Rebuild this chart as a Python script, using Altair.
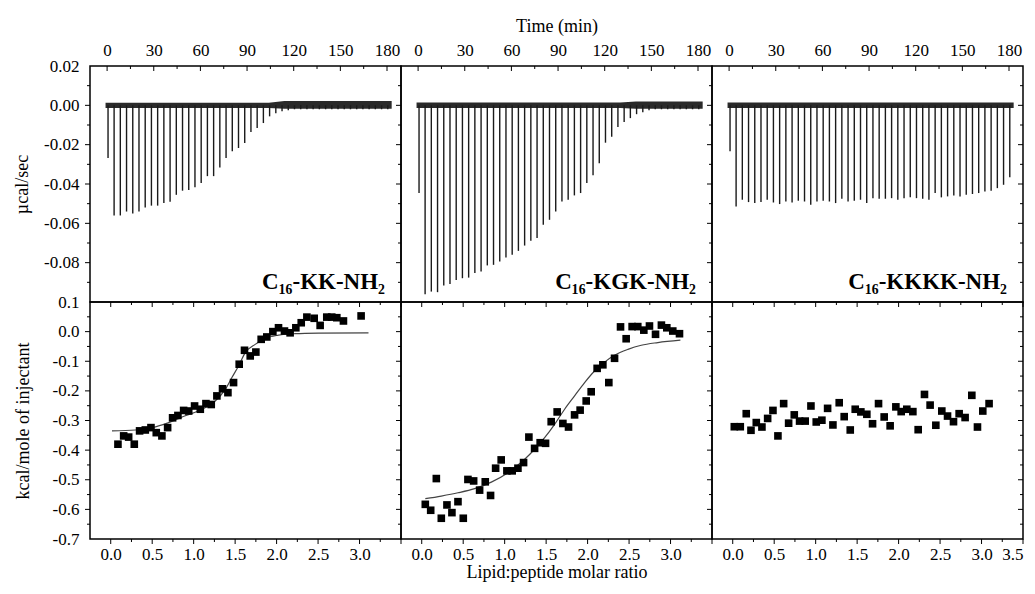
import altair as alt
import pandas as pd

W, H_TOP, H_BOT = 311, 236, 237
FONT = "Liberation Serif"

panel_names = ["C₁₆-KK-NH₂", "C₁₆-KGK-NH₂", "C₁₆-KKKK-NH₂"]

# ---- raw thermograms: injection times (min) and peak minima (µcal/sec) ----
inj_time = [0.6, 4.5, 8.5, 12.5, 16.5, 20.5, 24.5, 28.5, 32.5, 36.5, 40.5, 44.5,
            48.5, 52.5, 56.5, 60.5, 64.5, 68.5, 72.5, 76.5, 80.5, 84.5, 88.5, 92.5,
            96.5, 100.5, 104.5, 108.5, 112.5, 116.5, 120.5, 124.5, 128.5, 132.5,
            136.5, 140.5, 144.5, 148.5, 152.5, 156.5, 160.5, 164.5, 168.5, 172.5,
            176.5, 180.5]
peak_kk = [-0.0268, -0.0560, -0.0560, -0.0540, -0.0550, -0.0540, -0.0520, -0.0510,
           -0.0510, -0.0497, -0.0490, -0.0455, -0.0434, -0.0430, -0.0416, -0.0395,
           -0.0360, -0.0360, -0.0316, -0.0268, -0.0234, -0.0217, -0.0192, -0.0136,
           -0.0115, -0.0090, -0.0056, -0.0040, -0.0030, -0.0025, -0.0020, -0.0020,
           -0.0020, -0.0020, -0.0020, -0.0020, -0.0020, -0.0020, -0.0020, -0.0020,
           -0.0020, -0.0020, -0.0020, -0.0020, -0.0020, -0.0020]
peak_kgk = [-0.0446, -0.0960, -0.0947, -0.0950, -0.0916, -0.0909, -0.0888, -0.0879,
            -0.0876, -0.0853, -0.0845, -0.0814, -0.0811, -0.0794, -0.0774, -0.0760,
            -0.0740, -0.0713, -0.0689, -0.0675, -0.0607, -0.0582, -0.0540, -0.0489,
            -0.0480, -0.0458, -0.0446, -0.0395, -0.0356, -0.0294, -0.0190, -0.0160,
            -0.0110, -0.0085, -0.0065, -0.0045, -0.0035, -0.0025, -0.0020, -0.0020,
            -0.0020, -0.0020, -0.0020, -0.0020, -0.0020, -0.0020]
peak_kkkk = [-0.0234, -0.0514, -0.0480, -0.0492, -0.0497, -0.0492, -0.0480, -0.0494,
             -0.0502, -0.0489, -0.0494, -0.0485, -0.0489, -0.0506, -0.0489, -0.0485,
             -0.0489, -0.0497, -0.0475, -0.0489, -0.0485, -0.0480, -0.0497, -0.0472,
             -0.0475, -0.0475, -0.0472, -0.0480, -0.0472, -0.0468, -0.0472, -0.0475,
             -0.0480, -0.0446, -0.0468, -0.0463, -0.0458, -0.0463, -0.0455, -0.0451,
             -0.0446, -0.0438, -0.0434, -0.0421, -0.0404, -0.0366]

# baseline noise envelope (µcal/sec)
base_t_kk = [-1.0, 104.0, 114.0, 183.0]
base_lo_kk = [-0.0013, -0.0013, -0.0017, -0.0017]
base_hi_kk = [0.0013, 0.0013, 0.0022, 0.0022]
base_t_kgk = [-1.0, 130.0, 140.0, 183.0]
base_lo_kgk = [-0.0013, -0.0013, -0.0017, -0.0017]
base_hi_kgk = [0.0015, 0.0015, 0.0019, 0.0019]
base_t_kkkk = [-1.0, 183.0]
base_lo_kkkk = [-0.0013, -0.0013]
base_hi_kkkk = [0.0015, 0.0015]

# ---- integrated heats ----
ratio_kk = [0.087, 0.156, 0.216, 0.284, 0.348, 0.417, 0.485, 0.549, 0.617, 0.686, 0.746,
            0.810, 0.879, 0.940, 1.011, 1.080, 1.148, 1.212, 1.280, 1.348, 1.413, 1.481,
            1.549, 1.613, 1.682, 1.750, 1.814, 1.882, 1.955, 2.023, 2.095, 2.163, 2.232,
            2.297, 2.365, 2.453, 2.525, 2.605, 2.665, 2.726, 2.806, 3.019]
heat_kk = [-0.380, -0.352, -0.356, -0.380, -0.335, -0.332, -0.324, -0.341, -0.352, -0.324,
           -0.291, -0.283, -0.266, -0.268, -0.251, -0.262, -0.243, -0.246, -0.217, -0.193,
           -0.206, -0.172, -0.110, -0.063, -0.082, -0.069, -0.026, -0.018, 0.000, 0.013,
           0.002, -0.004, 0.013, 0.030, 0.049, 0.045, 0.021, 0.049, 0.049, 0.047, 0.036,
           0.053]
fit_x_kk = [0.015, 0.296, 0.497, 0.698, 0.899, 1.100, 1.260, 1.381, 1.461, 1.541, 1.622,
            1.742, 1.863, 2.023, 2.224, 2.505, 3.108]
fit_y_kk = [-0.335, -0.332, -0.324, -0.307, -0.284, -0.262, -0.234, -0.195, -0.155, -0.116,
            -0.071, -0.043, -0.023, -0.012, -0.007, -0.005, -0.004]

ratio_kgk = [0.043, 0.108, 0.176, 0.236, 0.304, 0.364, 0.437, 0.501, 0.557, 0.626, 0.698,
             0.766, 0.830, 0.891, 0.958, 1.027, 1.091, 1.160, 1.228, 1.292, 1.361, 1.428,
             1.493, 1.561, 1.633, 1.702, 1.770, 1.843, 1.910, 1.983, 2.043, 2.115, 2.184,
             2.256, 2.325, 2.397, 2.465, 2.537, 2.605, 2.678, 2.746, 2.819, 2.890, 2.955,
             3.027, 3.108]
heat_kgk = [-0.583, -0.603, -0.496, -0.630, -0.585, -0.611, -0.574, -0.630, -0.499, -0.504,
            -0.535, -0.507, -0.553, -0.461, -0.433, -0.470, -0.470, -0.461, -0.442, -0.356,
            -0.394, -0.375, -0.377, -0.304, -0.271, -0.310, -0.322, -0.281, -0.265, -0.234,
            -0.203, -0.124, -0.112, -0.172, -0.090, 0.016, -0.024, 0.017, 0.017, 0.005,
            0.019, -0.009, 0.022, 0.013, 0.002, -0.007]
fit_x_kgk = [0.043, 0.236, 0.437, 0.638, 0.839, 1.040, 1.241, 1.361, 1.482, 1.602, 1.723,
             1.843, 1.964, 2.084, 2.205, 2.325, 2.486, 2.647, 2.847, 3.119]
fit_y_kgk = [-0.564, -0.555, -0.544, -0.530, -0.508, -0.476, -0.431, -0.397, -0.358, -0.313,
             -0.262, -0.217, -0.172, -0.133, -0.103, -0.080, -0.060, -0.046, -0.037, -0.029]

ratio_kkkk = [0.019, 0.091, 0.163, 0.220, 0.284, 0.352, 0.421, 0.485, 0.545, 0.614, 0.674,
              0.742, 0.806, 0.874, 0.943, 1.007, 1.075, 1.144, 1.208, 1.284, 1.344, 1.417,
              1.477, 1.545, 1.617, 1.686, 1.758, 1.826, 1.898, 1.967, 2.031, 2.099, 2.172,
              2.236, 2.312, 2.380, 2.449, 2.521, 2.590, 2.662, 2.730, 2.802, 2.883, 2.951,
              3.015, 3.091]
heat_kkkk = [-0.321, -0.321, -0.277, -0.333, -0.307, -0.322, -0.293, -0.266, -0.352, -0.243,
             -0.309, -0.281, -0.302, -0.302, -0.251, -0.305, -0.299, -0.259, -0.315, -0.240,
             -0.287, -0.332, -0.262, -0.271, -0.279, -0.311, -0.243, -0.288, -0.318, -0.254,
             -0.270, -0.262, -0.270, -0.331, -0.212, -0.248, -0.316, -0.268, -0.285, -0.304,
             -0.277, -0.290, -0.215, -0.322, -0.268, -0.243]

# ---- tick positions ----
time_major = [0, 30, 60, 90, 120, 150, 180]
time_minor = [15, 45, 75, 105, 135, 165]
ratio_major = [0.0, 0.5, 1.0, 1.5, 2.0, 2.5, 3.0, 3.5]
ratio_minor = [0.25, 0.75, 1.25, 1.75, 2.25, 2.75, 3.25]
power_labels = [0.02, 0.0, -0.02, -0.04, -0.06, -0.08]
power_major = [0.0, -0.02, -0.04, -0.06, -0.08]
power_minor = [0.01, -0.01, -0.03, -0.05, -0.07, -0.09]
heat_major = [0.0, -0.1, -0.2, -0.3, -0.4, -0.5, -0.6]
heat_labels = [0.1, 0.0, -0.1, -0.2, -0.3, -0.4, -0.5, -0.6, -0.7]
heat_minor = [0.05, -0.05, -0.15, -0.25, -0.35, -0.45, -0.55, -0.65]

t_scale = alt.Scale(domain=[-11, 189], nice=False, zero=False)
p_scale = alt.Scale(domain=[-0.10, 0.02], nice=False, zero=False)
r_scale = alt.Scale(domain=[-0.25, 3.5], nice=False, zero=False)
h_scale = alt.Scale(domain=[-0.7, 0.1], nice=False, zero=False)

MINUS = "replace(format(datum.value, '{f}'), '\u2212', '-')"


def xt(values, scale, axis, y0, y1):
    return alt.Chart(pd.DataFrame({"v": values})).mark_rule(
        color="black", strokeWidth=1).encode(
        x=alt.X("v:Q", scale=scale, axis=axis), y=alt.value(y0), y2=alt.value(y1))


def yt(values, scale, axis, x0, x1):
    return alt.Chart(pd.DataFrame({"v": values})).mark_rule(
        color="black", strokeWidth=1).encode(
        y=alt.Y("v:Q", scale=scale, axis=axis), x=alt.value(x0), x2=alt.value(x1))


def label(name, h):
    return alt.Chart(pd.DataFrame({"n": [name]})).mark_text(
        font=FONT, fontSize=23, fontWeight="bold", align="right",
        baseline="alphabetic", color="black").encode(
        text="n:N", x=alt.value(W - 16), y=alt.value(h - 13))


def top_panel(i, peaks, bt, blo, bhi):
    if i == 1:
        xaxis = alt.Axis(orient="top", values=time_major, labelPadding=7,
                         title="Time (min)", titlePadding=6)
    else:
        xaxis = alt.Axis(orient="top", values=time_major, labelPadding=7, title=None)
    if i == 0:
        yaxis = alt.Axis(values=power_labels, labelExpr=MINUS.format(f=".2f"),
                         labelPadding=11, title="µcal/sec", titlePadding=12)
    else:
        yaxis = None
    band = alt.Chart(pd.DataFrame({"t": bt, "lo": blo, "hi": bhi})).mark_area(
        color="#2a2a2a").encode(
        x=alt.X("t:Q", scale=t_scale, axis=xaxis),
        y=alt.Y("lo:Q", scale=p_scale, axis=yaxis), y2="hi:Q")
    spikes = alt.Chart(pd.DataFrame({"t": inj_time, "p": peaks})).mark_rule(
        color="#1a1a1a", strokeWidth=1.4).encode(
        x=alt.X("t:Q", scale=t_scale, axis=xaxis),
        y=alt.Y("p:Q", scale=p_scale, axis=yaxis), y2=alt.datum(0))
    layers = [band, spikes,
              xt(time_major, t_scale, xaxis, 0, 5), xt(time_minor, t_scale, xaxis, 0, 3),
              yt(power_major, p_scale, yaxis, W, W - 5),
              yt(power_minor, p_scale, yaxis, W, W - 3)]
    if i == 0:
        layers += [yt(power_major, p_scale, yaxis, 0, -5),
                   yt(power_minor, p_scale, yaxis, 0, -3)]
    layers.append(label(panel_names[i], H_TOP))
    return alt.layer(*layers).properties(width=W, height=H_TOP)


def bottom_panel(i, rx, hy, fx=None, fy=None):
    xvals = ratio_major if i == 2 else ratio_major[:-1]
    if i == 1:
        xaxis = alt.Axis(orient="bottom", values=xvals, format=".1f", labelPadding=7,
                         title="Lipid:peptide molar ratio", titlePadding=1)
    else:
        xaxis = alt.Axis(orient="bottom", values=xvals, format=".1f", labelPadding=7,
                         title=None)
    if i == 0:
        yaxis = alt.Axis(values=heat_labels, labelExpr=MINUS.format(f=".1f"),
                         labelPadding=11, title="kcal/mole of injectant", titlePadding=20)
    else:
        yaxis = None
    pts = alt.Chart(pd.DataFrame({"r": rx, "h": hy})).mark_square(
        size=58, color="black", opacity=1).encode(
        x=alt.X("r:Q", scale=r_scale, axis=xaxis),
        y=alt.Y("h:Q", scale=h_scale, axis=yaxis))
    layers = [pts]
    if fx is not None:
        fit = alt.Chart(pd.DataFrame({"r": fx, "h": fy})).mark_line(
            color="#444444", strokeWidth=1.2, interpolate="monotone").encode(
            x=alt.X("r:Q", scale=r_scale, axis=xaxis),
            y=alt.Y("h:Q", scale=h_scale, axis=yaxis))
        layers.insert(0, fit)
    layers += [xt(ratio_major, r_scale, xaxis, 0, 5), xt(ratio_minor, r_scale, xaxis, 0, 3),
               xt(ratio_major, r_scale, xaxis, H_BOT, H_BOT + 5),
               xt(ratio_minor, r_scale, xaxis, H_BOT, H_BOT + 3),
               yt(heat_major, h_scale, yaxis, W, W - 5),
               yt(heat_minor, h_scale, yaxis, W, W - 3)]
    if i == 0:
        layers += [yt(heat_major, h_scale, yaxis, 0, -5),
                   yt(heat_minor, h_scale, yaxis, 0, -3)]
    return alt.layer(*layers).properties(width=W, height=H_BOT)


charts = [
    top_panel(0, peak_kk, base_t_kk, base_lo_kk, base_hi_kk),
    top_panel(1, peak_kgk, base_t_kgk, base_lo_kgk, base_hi_kgk),
    top_panel(2, peak_kkkk, base_t_kkkk, base_lo_kkkk, base_hi_kkkk),
    bottom_panel(0, ratio_kk, heat_kk, fit_x_kk, fit_y_kk),
    bottom_panel(1, ratio_kgk, heat_kgk, fit_x_kgk, fit_y_kgk),
    bottom_panel(2, ratio_kkkk, heat_kkkk),
]

chart = alt.concat(*charts, columns=3, spacing=0, bounds="flush").properties(
    padding={"left": 4, "top": 8, "right": 0, "bottom": 0}
).configure_view(stroke="black", strokeWidth=1.5).configure_axis(
    labelFont=FONT, labelFontSize=17, labelColor="black",
    titleFont=FONT, titleFontSize=18, titleFontWeight="normal", titleColor="black",
    grid=False, ticks=False, domain=False
)

chart.save("out.html", embed_options={"renderer": "svg", "actions": False})
